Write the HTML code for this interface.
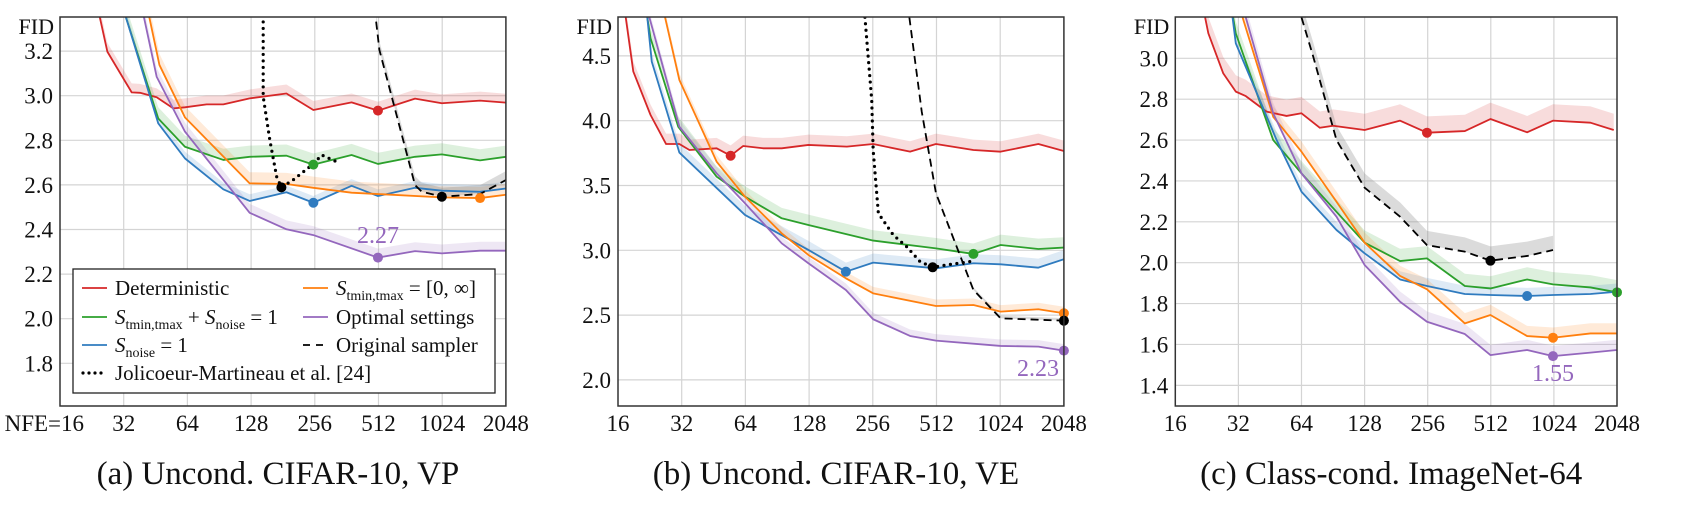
<!DOCTYPE html>
<html><head><meta charset="utf-8">
<style>
html,body{margin:0;padding:0;background:#fff;}
svg{display:block;font-family:"Liberation Serif",serif;}
</style></head>
<body>
<svg id="chart" width="1686" height="505" viewBox="0 0 1686 505" xmlns="http://www.w3.org/2000/svg"></svg>
<script>
// ---------- Data: panel (a) Uncond. CIFAR-10, VP ----------
const xTickLabels = [16, 32, 64, 128, 256, 512, 1024, 2048];
const aYTicks = [1.8, 2.0, 2.2, 2.4, 2.6, 2.8, 3.0, 3.2];
const bYTicks = [2.0, 2.5, 3.0, 3.5, 4.0, 4.5];
const cYTicks = [1.4, 1.6, 1.8, 2.0, 2.2, 2.4, 2.6, 2.8, 3.0];

const aRedN = [22, 24.7, 26.8, 34.9, 38.2, 45.8, 54.9, 62.3, 78.9, 94.6, 126, 188, 252, 382, 509, 762, 1020, 1546, 2048];
const aRedV = [3.6, 3.35, 3.197, 3.015, 3.013, 2.993, 2.943, 2.948, 2.961, 2.961, 2.988, 3.010, 2.936, 2.970, 2.933, 2.987, 2.966, 2.978, 2.969];
const aGreenN = [30, 32.8, 46.6, 62.3, 94.6, 126, 188, 252, 382, 509, 762, 1020, 1546, 2048];
const aGreenV = [3.6, 3.351, 2.898, 2.771, 2.712, 2.726, 2.731, 2.691, 2.734, 2.694, 2.726, 2.737, 2.710, 2.726];
const aBlueN = [30, 32.8, 46.6, 62.3, 94.6, 126, 188, 252, 382, 509, 762, 1020, 1546, 2048];
const aBlueV = [3.6, 3.351, 2.876, 2.719, 2.580, 2.528, 2.567, 2.520, 2.596, 2.550, 2.587, 2.574, 2.569, 2.584];
const aOrangeN = [40, 42.3, 47.2, 62.3, 126, 188, 252, 382, 509, 1020, 1546, 2048];
const aOrangeV = [3.6, 3.351, 3.138, 2.903, 2.607, 2.604, 2.587, 2.565, 2.559, 2.544, 2.541, 2.556];
const aPurpleN = [37, 39.9, 45.8, 62.3, 126, 188, 252, 509, 762, 1020, 1546, 2048];
const aPurpleV = [3.6, 3.351, 3.085, 2.839, 2.475, 2.401, 2.375, 2.274, 2.303, 2.293, 2.305, 2.305];
const aJolN = [146, 146, 157, 169, 178, 202, 252, 276, 319];
const aJolV = [3.36, 2.996, 2.80, 2.637, 2.589, 2.622, 2.694, 2.734, 2.707];
const aOrigN = [499, 517, 762, 819, 1020, 1546, 2048];
const aOrigV = [3.332, 3.205, 2.599, 2.570, 2.547, 2.559, 2.622];
const aBestN = [509, 252, 252, 1546, 509, 178, 1020];
const aSpread = [0.04, 0.05, 0.03, 0.05, 0.04, 0, 0.04];

// ---------- Data: panel (b) Uncond. CIFAR-10, VE ----------
const bRedN = [17.4, 18.9, 22.8, 27.0, 31.2, 34.8, 46.8, 54.5, 62.5, 77.8, 95, 127, 193, 257, 384, 509, 765, 1029, 1551, 2048];
const bRedV = [4.798, 4.379, 4.044, 3.820, 3.820, 3.774, 3.787, 3.730, 3.805, 3.787, 3.787, 3.813, 3.800, 3.820, 3.761, 3.820, 3.774, 3.761, 3.820, 3.766];
const bGreenN = [22.0, 22.8, 30.8, 46.8, 63.7, 95, 127, 257, 509, 765, 1029, 1551, 2048];
const bGreenV = [4.798, 4.636, 3.954, 3.568, 3.414, 3.247, 3.195, 3.075, 3.015, 2.972, 3.041, 3.010, 3.021];
const bBlueN = [22.0, 23.1, 31.2, 63.7, 127, 191, 257, 509, 765, 1029, 1551, 2048];
const bBlueV = [4.798, 4.456, 3.754, 3.273, 3.003, 2.835, 2.905, 2.861, 2.900, 2.892, 2.866, 2.931];
const bOrangeN = [26.7, 31.2, 46.8, 63.7, 95, 127, 191, 257, 509, 765, 1029, 1551, 2048];
const bOrangeV = [4.798, 4.314, 3.684, 3.414, 3.131, 2.964, 2.784, 2.668, 2.570, 2.578, 2.527, 2.545, 2.514];
const bPurpleN = [22.5, 31.2, 46.8, 63.7, 95, 127, 191, 257, 384, 509, 1029, 1551, 2048];
const bPurpleV = [4.798, 3.954, 3.594, 3.363, 3.054, 2.900, 2.694, 2.468, 2.339, 2.303, 2.262, 2.257, 2.226];
const bJolN = [235, 253, 257, 272, 320, 370, 428, 491, 572, 738];
const bJolV = [4.798, 4.160, 3.774, 3.285, 3.118, 3.028, 2.913, 2.869, 2.887, 2.913];
const bOrigN = [381, 436, 509, 765, 1029, 2048];
const bOrigV = [4.798, 4.070, 3.440, 2.694, 2.475, 2.457];
const bBestN = [54.5, 765, 191, 2048, 2048, 491, 2048];
const bSpread = [0.08, 0.08, 0.07, 0.05, 0.05, 0, 0.02];

// ---------- Data: panel (c) Class-cond. ImageNet-64 ----------
const cRedN = [22.2, 23.0, 27.1, 31.1, 34.7, 43.6, 54.3, 64.0, 78.3, 90.6, 128, 189, 254, 385, 510, 763, 1014, 1530, 1976];
const cRedV = [3.200, 3.122, 2.926, 2.837, 2.815, 2.739, 2.718, 2.731, 2.660, 2.670, 2.649, 2.695, 2.636, 2.644, 2.703, 2.638, 2.695, 2.685, 2.649];
const cGreenN = [30.2, 31.1, 46.9, 64, 128, 189, 254, 385, 510, 763, 1014, 1530, 2048];
const cGreenV = [3.200, 3.122, 2.600, 2.437, 2.098, 2.008, 2.021, 1.886, 1.874, 1.918, 1.894, 1.879, 1.855];
const cBlueN = [30.0, 31.1, 48.7, 64, 94, 128, 189, 254, 385, 510, 763, 1014, 1530, 2048];
const cBlueV = [3.200, 3.073, 2.600, 2.347, 2.160, 2.046, 1.918, 1.886, 1.847, 1.842, 1.837, 1.842, 1.847, 1.858];
const cOrangeN = [33.5, 46.9, 64, 94, 128, 189, 254, 385, 510, 763, 1014, 1530, 2048];
const cOrangeV = [3.200, 2.714, 2.543, 2.298, 2.098, 1.935, 1.870, 1.703, 1.744, 1.641, 1.633, 1.654, 1.654];
const cPurpleN = [34.7, 46.9, 64, 94, 128, 189, 254, 385, 510, 763, 1014, 1530, 2048];
const cPurpleV = [3.200, 2.731, 2.437, 2.225, 1.989, 1.809, 1.711, 1.651, 1.548, 1.573, 1.543, 1.560, 1.573];
const cOrigN = [64, 72.8, 94, 128, 189, 254, 385, 510, 763, 1014];
const cOrigV = [3.200, 3.008, 2.600, 2.367, 2.225, 2.086, 2.054, 2.010, 2.033, 2.062];
const cBestN = [254, 2048, 763, 1014, 1014, 510];
const cSpread = [0.08, 0.06, 0.04, 0.05, 0.05, 0.07];

// ---------- Rendering ----------
const NS = 'http://www.w3.org/2000/svg';
const svg = document.getElementById('chart');
function mk(tag, attrs, parent) {
  const e = document.createElementNS(NS, tag);
  for (const k in attrs) e.setAttribute(k, attrs[k]);
  (parent || svg).appendChild(e);
  return e;
}
const COLORS = {red:'#d62728', green:'#2ca02c', blue:'#2f7bbf', orange:'#ff7f0e', purple:'#9467bd', black:'#000'};

function drawPanel(p) {
  const g = mk('g', {});
  
  
  const xs = n => p.left + p.oct * Math.log2(n / 16);
  const ys = v => p.yRefPx + (p.yRefV - v) * p.k;
  const right = xs(2048);
  const cid = 'clip-' + p.id;
  const defs = mk('defs', {}, g);
  const cp = mk('clipPath', {id: cid}, defs);
  mk('rect', {x: p.left, y: p.top, width: right - p.left, height: p.bottom - p.top}, cp);

  const grid = mk('g', {stroke: '#d4d4d4', 'stroke-width': 1.2}, g);
  
  
  xTickLabels.forEach(n => {
    const x = xs(n);
    if (x > p.left + 1 && x < right - 1) mk('line', {x1: x, x2: x, y1: p.top, y2: p.bottom}, grid);
  });
  p.yTicks.forEach(v => { const y = ys(v); mk('line', {x1: p.left, x2: right, y1: y, y2: y}, grid); });

  p.yTicks.forEach(v => {
    const t = mk('text', {x: p.left - 7, y: ys(v) + 8, 'text-anchor': 'end', 'font-size': 23, fill: '#111'}, g);
    t.textContent = v.toFixed(1);
    
    
  });
  const fid = mk('text', {x: p.left - 6, y: 34, 'text-anchor': 'end', 'font-size': 22, fill: '#111'}, g);
  fid.textContent = 'FID';
  
  

  xTickLabels.forEach((n, i) => {
    const isFirst = i === 0 && p.nfeLabel;
    const t = mk('text', {x: isFirst ? 84 : xs(n), y: 431, 'text-anchor': isFirst ? 'end' : 'middle', 'font-size': 23, fill: '#111'}, g);
    t.textContent = isFirst ? 'NFE=16' : String(n);
    
    
  });

  const plot = mk('g', {'clip-path': 'url(#' + cid + ')'}, g);
  p.series.forEach((s, i) => {
    const sp = p.spread[i];
    if (!sp) return;
    const up = s.n.map((n, j) => xs(n) + ',' + ys(s.v[j] + sp));
    const lo = s.n.map((n, j) => xs(n) + ',' + ys(s.v[j])).reverse();
    const col = s.color === 'black' ? '#888' : COLORS[s.color];
    const b = mk('polygon', {points: up.concat(lo).join(' '), fill: col, 'fill-opacity': s.color === 'black' ? 0.3 : 0.16}, plot);
    
    
  });
  p.series.forEach(s => {
    const pts = s.n.map((n, j) => xs(n) + ',' + ys(s.v[j])).join(' ');
    const attrs = {points: pts, fill: 'none', stroke: COLORS[s.color], 'stroke-width': s.dash === 'dot' ? 3.2 : 1.8, 'stroke-linejoin': 'round'};
    if (s.dash === 'dash') attrs['stroke-dasharray'] = '8 5';
    if (s.dash === 'dot') { attrs['stroke-dasharray'] = '0 6.5'; attrs['stroke-linecap'] = 'round'; }
    const l = mk('polyline', attrs, plot);
    
    
  });
  p.series.forEach((s, i) => {
    const bn = p.best[i];
    const j = s.n.indexOf(bn);
    if (j < 0) return;
    const c = mk('circle', {cx: xs(bn), cy: ys(s.v[j]), r: 5, fill: COLORS[s.color]}, g);
    
    
  });
  const fr = mk('rect', {x: p.left, y: p.top, width: right - p.left, height: p.bottom - p.top, fill: 'none', stroke: '#333', 'stroke-width': 1.5}, g);
  
  
  const bl = mk('text', {x: p.bestLabel.x, y: p.bestLabel.y, 'text-anchor': 'middle', 'font-size': 24, fill: '#9467bd'}, g);
  bl.textContent = p.bestLabel.text;
  
  
  const cap = mk('text', {x: (p.left + right) / 2 - 5, y: 484, 'text-anchor': 'middle', 'font-size': 33, fill: '#111'}, g);
  cap.textContent = p.caption;
  
  
}

function S(key, n, v, color, dash) { return {key, n, v, color, dash}; }

drawPanel({id: 'a', name: 'panel-a-cifar10-vp', left: 60, oct: 63.7, top: 17, bottom: 406, yRefPx: 95.7, yRefV: 3.0, k: 223,
  yTicks: aYTicks, nfeLabel: true, spread: aSpread, best: aBestN,
  bestLabel: {x: 378, y: 243, text: '2.27'}, caption: '(a) Uncond. CIFAR-10, VP',
  series: [S('deterministic', aRedN, aRedV, 'red'), S('stminmax-snoise', aGreenN, aGreenV, 'green'),
    S('snoise', aBlueN, aBlueV, 'blue'), S('stminmax-full', aOrangeN, aOrangeV, 'orange'),
    S('optimal', aPurpleN, aPurpleV, 'purple'), S('jolicoeur', aJolN, aJolV, 'black', 'dot'),
    S('original', aOrigN, aOrigV, 'black', 'dash')]});

drawPanel({id: 'b', name: 'panel-b-cifar10-ve', left: 618, oct: 63.7, top: 17, bottom: 406, yRefPx: 250.3, yRefV: 3.0, k: 129.6,
  yTicks: bYTicks, nfeLabel: false, spread: bSpread, best: bBestN,
  bestLabel: {x: 1038, y: 376, text: '2.23'}, caption: '(b) Uncond. CIFAR-10, VE',
  series: [S('deterministic', bRedN, bRedV, 'red'), S('stminmax-snoise', bGreenN, bGreenV, 'green'),
    S('snoise', bBlueN, bBlueV, 'blue'), S('stminmax-full', bOrangeN, bOrangeV, 'orange'),
    S('optimal', bPurpleN, bPurpleV, 'purple'), S('jolicoeur', bJolN, bJolV, 'black', 'dot'),
    S('original', bOrigN, bOrigV, 'black', 'dash')]});

drawPanel({id: 'c', name: 'panel-c-imagenet64', left: 1175.3, oct: 63.1, top: 17, bottom: 406, yRefPx: 262.7, yRefV: 2.0, k: 204.4,
  yTicks: cYTicks, nfeLabel: false, spread: cSpread, best: cBestN,
  bestLabel: {x: 1553, y: 381, text: '1.55'}, caption: '(c) Class-cond. ImageNet-64',
  series: [S('deterministic', cRedN, cRedV, 'red'), S('stminmax-snoise', cGreenN, cGreenV, 'green'),
    S('snoise', cBlueN, cBlueV, 'blue'), S('stminmax-full', cOrangeN, cOrangeV, 'orange'),
    S('optimal', cPurpleN, cPurpleV, 'purple'), S('original', cOrigN, cOrigV, 'black', 'dash')]});

// ---------- Legend (panel a) ----------
const lg = mk('g', {});


mk('rect', {x: 73, y: 269, width: 422, height: 124, fill: '#fff', stroke: '#222', 'stroke-width': 1.3}, lg);
const legendItems = [
  {x: 82, y: 288, color: COLORS.red, dash: null, html: 'Deterministic'},
  {x: 303, y: 288, color: COLORS.orange, dash: null, html: '<tspan font-style="italic">S</tspan><tspan font-size="14" dy="5">tmin,tmax</tspan><tspan dy="-5"> = [0, ∞]</tspan>'},
  {x: 82, y: 317, color: COLORS.green, dash: null, html: '<tspan font-style="italic">S</tspan><tspan font-size="14" dy="5">tmin,tmax</tspan><tspan dy="-5"> + </tspan><tspan font-style="italic">S</tspan><tspan font-size="14" dy="5">noise</tspan><tspan dy="-5"> = 1</tspan>'},
  {x: 303, y: 317, color: COLORS.purple, dash: null, html: 'Optimal settings'},
  {x: 82, y: 345, color: COLORS.blue, dash: null, html: '<tspan font-style="italic">S</tspan><tspan font-size="14" dy="5">noise</tspan><tspan dy="-5"> = 1</tspan>'},
  {x: 303, y: 345, color: '#000', dash: '7 6', html: 'Original sampler'},
  {x: 82, y: 373, color: '#000', dash: 'dot', html: 'Jolicoeur-Martineau et al. [24]'}
];
legendItems.forEach(it => {
  const e = mk('g', {}, lg);
  
  
  const la = {x1: it.x, x2: it.x + 25, y1: it.y, y2: it.y, stroke: it.color, 'stroke-width': 1.8};
  if (it.dash === 'dot') { la['stroke-dasharray'] = '0 6'; la['stroke-linecap'] = 'round'; la['stroke-width'] = 3.2; la.x1 = it.x + 1; }
  else if (it.dash) la['stroke-dasharray'] = it.dash;
  mk('line', la, e);
  const t = mk('text', {x: it.x + 33, y: it.y + 7, 'font-size': 21, fill: '#111'}, e);
  t.innerHTML = it.html;
});
</script>
</body></html>
